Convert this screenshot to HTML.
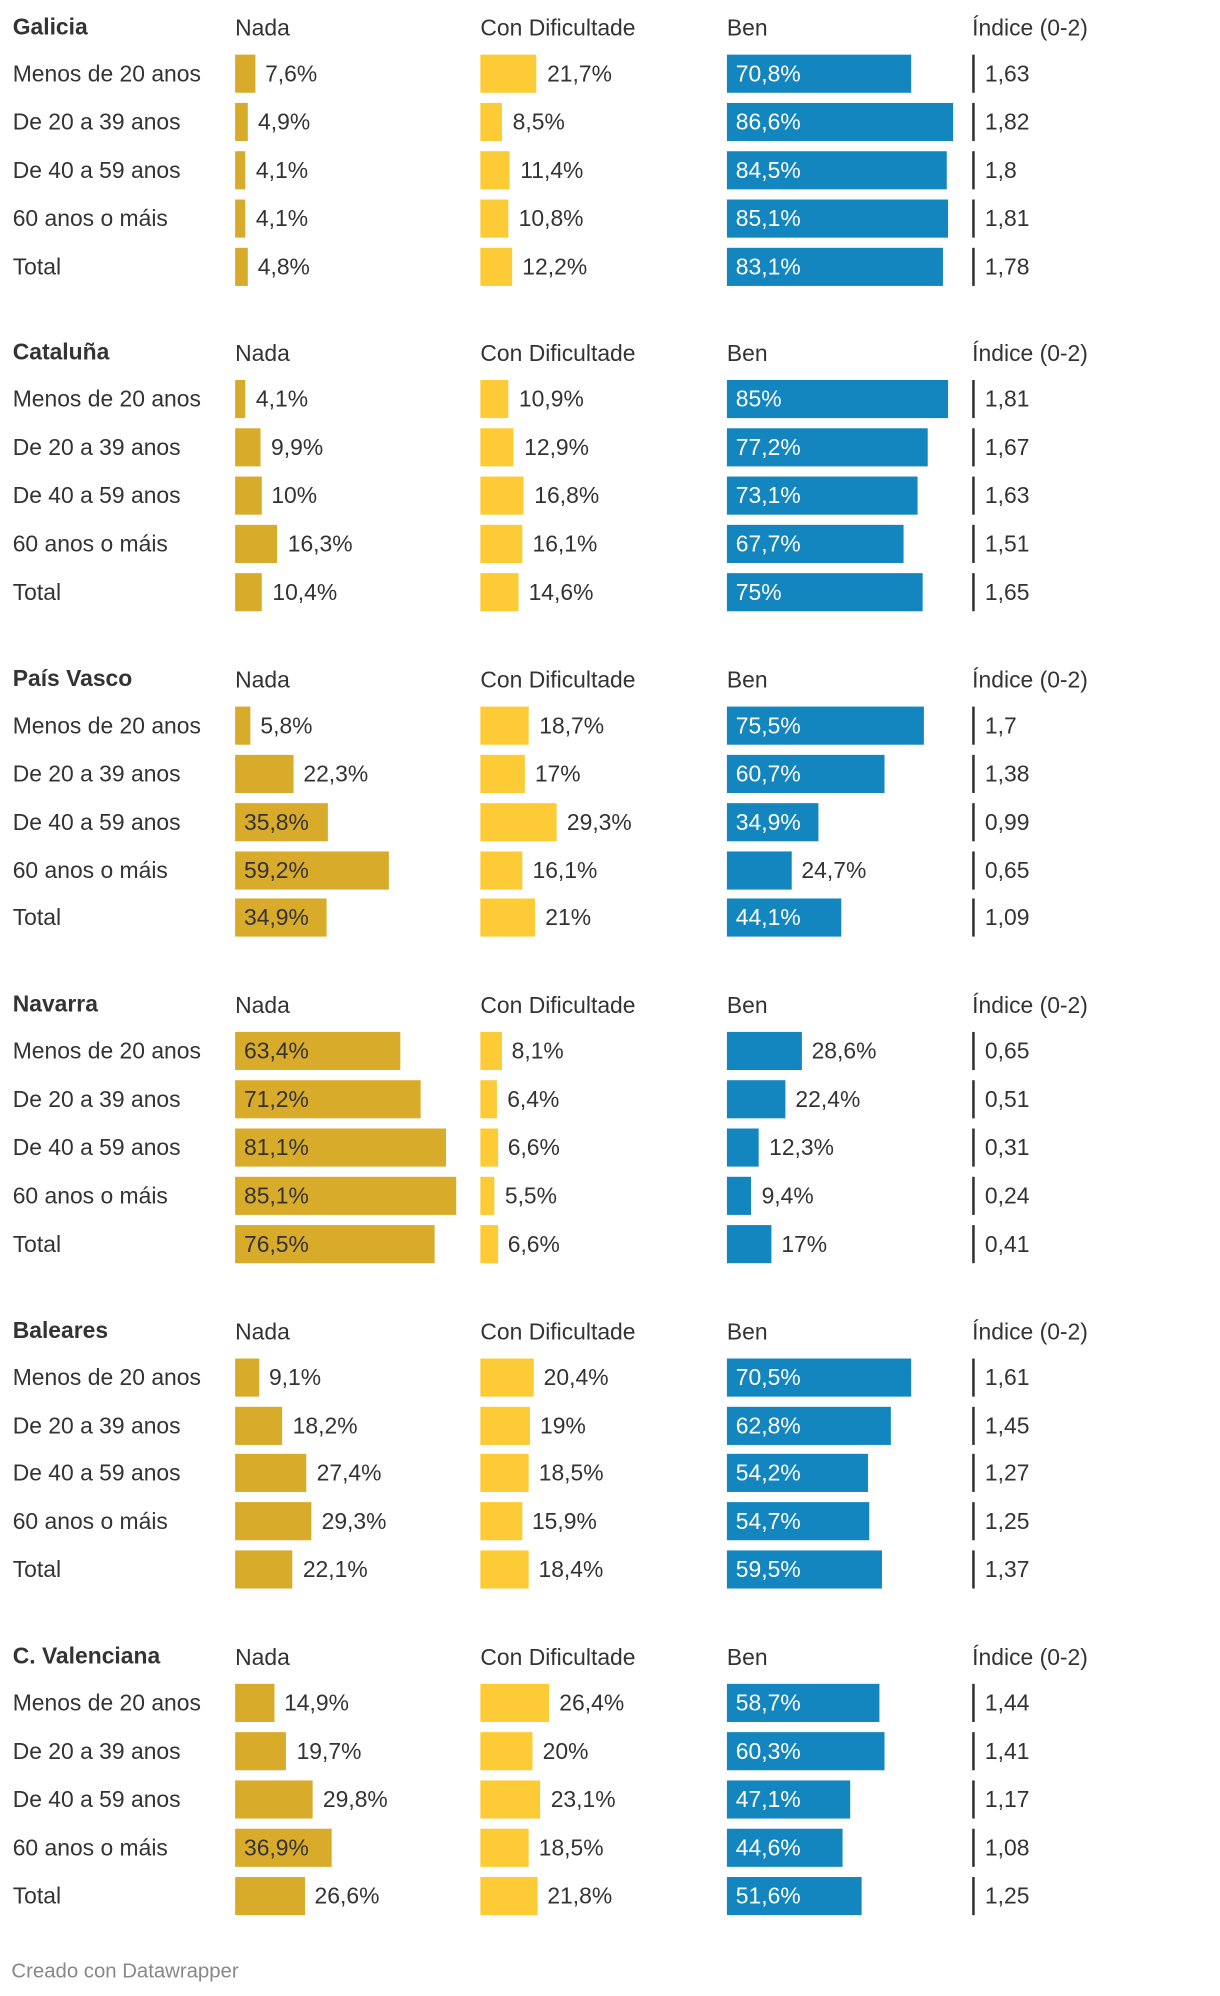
<!DOCTYPE html>
<html><head><meta charset="utf-8">
<style>
html,body{margin:0;padding:0;background:#fff;}
body{width:1220px;height:1996px;overflow:hidden;position:relative;font-family:"Liberation Sans",sans-serif;color:#333;}
#wrap{position:absolute;left:0;top:0;width:960px;height:1571px;transform:scale(1.27083);transform-origin:0 0;}
.t{position:absolute;white-space:nowrap;font-size:18px;line-height:20px;}
.h{font-weight:bold;}
.bar{position:absolute;height:30px;}
.ix{position:absolute;width:2px;height:30px;background:#333;}
</style></head><body>
<div id="wrap"></div>
<script>
const regions=["Galicia","Cataluña","País Vasco","Navarra","Baleares","C. Valenciana"];
const categories=["Menos de 20 anos","De 20 a 39 anos","De 40 a 59 anos","60 anos o máis","Total"];
const nada=[[7.6,4.9,4.1,4.1,4.8],[4.1,9.9,10,16.3,10.4],[5.8,22.3,35.8,59.2,34.9],[63.4,71.2,81.1,85.1,76.5],[9.1,18.2,27.4,29.3,22.1],[14.9,19.7,29.8,36.9,26.6]];
const conDif=[[21.7,8.5,11.4,10.8,12.2],[10.9,12.9,16.8,16.1,14.6],[18.7,17,29.3,16.1,21],[8.1,6.4,6.6,5.5,6.6],[20.4,19,18.5,15.9,18.4],[26.4,20,23.1,18.5,21.8]];
const ben=[[70.8,86.6,84.5,85.1,83.1],[85,77.2,73.1,67.7,75],[75.5,60.7,34.9,24.7,44.1],[28.6,22.4,12.3,9.4,17],[70.5,62.8,54.2,54.7,59.5],[58.7,60.3,47.1,44.6,51.6]];
const indice=[["1,63","1,82","1,8","1,81","1,78"],["1,81","1,67","1,63","1,51","1,65"],["1,7","1,38","0,99","0,65","1,09"],["0,65","0,51","0,31","0,24","0,41"],["1,61","1,45","1,27","1,25","1,37"],["1,44","1,41","1,17","1,08","1,25"]];
const colHeaders=["Nada","Con Dificultade","Ben","Índice (0-2)"];

const W=document.getElementById('wrap');
const colX=[185,378,572,765];
const xs=v=>v*2.05;
const fmt=v=>String(v).replace('.',',')+'%';
function txt(x,y,s,cls,name,color){
  const e=document.createElement('div');e.className='t '+(cls||'');
  e.style.left=x+'px';e.style.top=y+'px';e.textContent=s;if(color)e.style.color=color;
  
  
  W.appendChild(e);return e;
}
function bar(x,y,v,color,inColor,name){
  const w=xs(v);
  const b=document.createElement('div');b.className='bar';
  b.style.left=x+'px';b.style.top=y+'px';b.style.width=w+'px';b.style.background=color;
  
  
  W.appendChild(b);
  if(v>=30) txt(x+7,y+5,fmt(v),'','value-label',inColor);
  else txt(x+w+8,y+5,fmt(v),'','value-label');
}
regions.forEach((r,g)=>{
  const y0=11+g*256.4;
  txt(10,y0,r,'h','region-title');
  colHeaders.forEach((h,i)=>txt(colX[i],y0+1,h,'','column-header'));
  categories.forEach((c,k)=>{
    const y=y0+32+k*37.9;
    txt(10,y+5,c,'','row-label');
    bar(colX[0],y,nada[g][k],'#d8ab2b','#333','bar-nada');
    bar(colX[1],y,conDif[g][k],'#fdcb35','#333','bar-con-dificultade');
    bar(colX[2],y,ben[g][k],'#1386c0','#fff','bar-ben');
    const l=document.createElement('div');l.className='ix';l.style.left=colX[3]+'px';l.style.top=y+'px';
    
    
    W.appendChild(l);
    txt(colX[3]+10,y+5,indice[g][k],'','index-value');
  });
});
const f=txt(9,1542,'Creado con Datawrapper','','footer-credit','#888');f.style.fontSize='16px';
</script>
</body></html>
